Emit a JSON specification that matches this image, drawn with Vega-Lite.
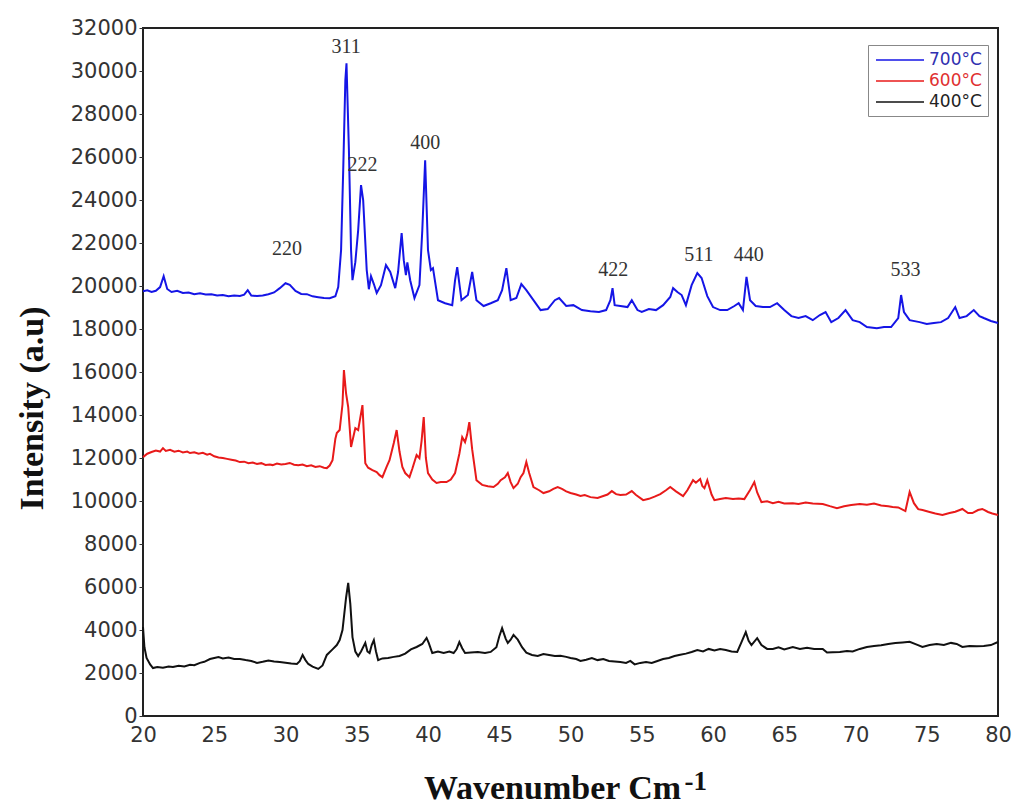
{
  "$schema": "https://vega.github.io/schema/vega-lite/v6.json",
  "width": 855,
  "height": 688,
  "autosize": {"type": "none"},
  "padding": {"left": 143, "top": 28, "right": 17, "bottom": 91},
  "background": "white",
  "config": {
    "view": {"stroke": "#222222", "strokeWidth": 2},
    "axis": {"domain": false, "grid": false, "labelFont": "DejaVu Sans", "labelFontSize": 21, "labelColor": "#333333", "tickColor": "#333333", "titleFont": "Liberation Serif", "titleFontWeight": "bold", "titleColor": "#111111"}
  },
  "datasets": {
    "s700": [
      {"x":20.0,"y":19760},{"x":20.3,"y":19800},{"x":20.6,"y":19720},{"x":20.9,"y":19780},{"x":21.2,"y":19950},{"x":21.45,"y":20460},{"x":21.7,"y":19860},{"x":22.0,"y":19720},{"x":22.4,"y":19780},{"x":22.8,"y":19680},{"x":23.2,"y":19700},{"x":23.6,"y":19620},{"x":24.0,"y":19660},{"x":24.4,"y":19600},{"x":24.8,"y":19620},{"x":25.2,"y":19560},{"x":25.6,"y":19580},{"x":26.0,"y":19520},{"x":26.4,"y":19560},{"x":26.8,"y":19540},{"x":27.1,"y":19600},{"x":27.35,"y":19810},{"x":27.6,"y":19560},{"x":28.0,"y":19530},{"x":28.4,"y":19560},{"x":28.8,"y":19620},{"x":29.2,"y":19700},{"x":29.6,"y":19900},{"x":30.0,"y":20130},{"x":30.3,"y":20050},{"x":30.7,"y":19770},{"x":31.1,"y":19630},{"x":31.5,"y":19620},{"x":31.9,"y":19520},{"x":32.3,"y":19480},{"x":32.7,"y":19440},{"x":33.1,"y":19430},{"x":33.5,"y":19520},{"x":33.7,"y":19950},{"x":33.9,"y":21670},{"x":34.05,"y":25390},{"x":34.2,"y":29570},{"x":34.28,"y":30360},{"x":34.45,"y":26320},{"x":34.6,"y":21670},{"x":34.7,"y":20270},{"x":34.9,"y":21110},{"x":35.1,"y":22600},{"x":35.3,"y":24690},{"x":35.45,"y":23990},{"x":35.7,"y":20740},{"x":35.85,"y":19850},{"x":36.0,"y":20460},{"x":36.2,"y":20090},{"x":36.4,"y":19680},{"x":36.7,"y":20040},{"x":37.05,"y":20970},{"x":37.35,"y":20650},{"x":37.7,"y":19900},{"x":37.9,"y":20650},{"x":38.15,"y":22460},{"x":38.3,"y":21200},{"x":38.45,"y":20510},{"x":38.55,"y":21100},{"x":38.75,"y":20270},{"x":39.05,"y":19440},{"x":39.4,"y":20040},{"x":39.6,"y":22600},{"x":39.8,"y":25850},{"x":40.0,"y":21670},{"x":40.2,"y":20740},{"x":40.35,"y":20830},{"x":40.7,"y":19340},{"x":41.2,"y":19200},{"x":41.7,"y":19110},{"x":41.9,"y":20270},{"x":42.05,"y":20880},{"x":42.35,"y":19340},{"x":42.8,"y":19580},{"x":43.1,"y":20650},{"x":43.4,"y":19340},{"x":43.9,"y":19070},{"x":44.4,"y":19200},{"x":44.9,"y":19340},{"x":45.2,"y":19810},{"x":45.5,"y":20830},{"x":45.8,"y":19340},{"x":46.2,"y":19440},{"x":46.55,"y":20090},{"x":46.9,"y":19810},{"x":47.4,"y":19340},{"x":47.9,"y":18880},{"x":48.4,"y":18930},{"x":48.9,"y":19340},{"x":49.2,"y":19440},{"x":49.7,"y":19070},{"x":50.2,"y":19110},{"x":50.8,"y":18880},{"x":51.4,"y":18830},{"x":52.0,"y":18790},{"x":52.5,"y":18880},{"x":52.8,"y":19340},{"x":52.95,"y":19900},{"x":53.1,"y":19110},{"x":53.5,"y":19070},{"x":54.0,"y":19020},{"x":54.3,"y":19340},{"x":54.7,"y":18880},{"x":55.0,"y":18790},{"x":55.5,"y":18930},{"x":56.0,"y":18880},{"x":56.5,"y":19110},{"x":57.0,"y":19490},{"x":57.2,"y":19900},{"x":57.5,"y":19720},{"x":57.8,"y":19580},{"x":58.1,"y":19110},{"x":58.5,"y":20040},{"x":58.9,"y":20600},{"x":59.2,"y":20370},{"x":59.6,"y":19530},{"x":60.0,"y":19020},{"x":60.5,"y":18880},{"x":61.0,"y":18880},{"x":61.5,"y":19070},{"x":61.8,"y":19200},{"x":62.1,"y":18880},{"x":62.35,"y":20420},{"x":62.6,"y":19340},{"x":63.0,"y":19070},{"x":63.5,"y":19020},{"x":64.0,"y":19020},{"x":64.5,"y":19200},{"x":65.0,"y":18880},{"x":65.5,"y":18600},{"x":66.0,"y":18510},{"x":66.5,"y":18600},{"x":67.0,"y":18410},{"x":67.5,"y":18650},{"x":67.9,"y":18790},{"x":68.3,"y":18320},{"x":68.8,"y":18510},{"x":69.3,"y":18880},{"x":69.8,"y":18410},{"x":70.3,"y":18320},{"x":70.8,"y":18090},{"x":71.5,"y":18040},{"x":72.0,"y":18090},{"x":72.5,"y":18090},{"x":73.0,"y":18510},{"x":73.2,"y":19580},{"x":73.4,"y":18790},{"x":73.8,"y":18410},{"x":74.5,"y":18320},{"x":75.0,"y":18230},{"x":75.5,"y":18280},{"x":76.0,"y":18320},{"x":76.5,"y":18510},{"x":77.0,"y":19020},{"x":77.3,"y":18510},{"x":77.8,"y":18600},{"x":78.3,"y":18880},{"x":78.7,"y":18600},{"x":79.0,"y":18510},{"x":79.5,"y":18370},{"x":80.0,"y":18280}
    ],
    "s600": [
      {"x":20.0,"y":12040},{"x":20.3,"y":12200},{"x":20.6,"y":12280},{"x":20.9,"y":12350},{"x":21.2,"y":12300},{"x":21.4,"y":12460},{"x":21.6,"y":12330},{"x":21.9,"y":12380},{"x":22.2,"y":12290},{"x":22.5,"y":12340},{"x":22.8,"y":12260},{"x":23.1,"y":12300},{"x":23.3,"y":12230},{"x":23.6,"y":12270},{"x":23.9,"y":12200},{"x":24.2,"y":12240},{"x":24.5,"y":12150},{"x":24.7,"y":12190},{"x":25.0,"y":12080},{"x":25.3,"y":12020},{"x":25.6,"y":12000},{"x":25.9,"y":11960},{"x":26.2,"y":11920},{"x":26.5,"y":11880},{"x":26.8,"y":11810},{"x":27.1,"y":11830},{"x":27.4,"y":11760},{"x":27.7,"y":11790},{"x":28.0,"y":11720},{"x":28.3,"y":11760},{"x":28.6,"y":11680},{"x":28.9,"y":11700},{"x":29.1,"y":11670},{"x":29.4,"y":11740},{"x":29.7,"y":11700},{"x":30.0,"y":11720},{"x":30.3,"y":11770},{"x":30.6,"y":11690},{"x":30.9,"y":11660},{"x":31.2,"y":11700},{"x":31.5,"y":11620},{"x":31.8,"y":11660},{"x":32.1,"y":11580},{"x":32.4,"y":11620},{"x":32.7,"y":11550},{"x":32.9,"y":11530},{"x":33.1,"y":11650},{"x":33.3,"y":11900},{"x":33.5,"y":12900},{"x":33.6,"y":13160},{"x":33.8,"y":13300},{"x":34.0,"y":14500},{"x":34.1,"y":16090},{"x":34.25,"y":15000},{"x":34.4,"y":14370},{"x":34.6,"y":12510},{"x":34.9,"y":13390},{"x":35.1,"y":13300},{"x":35.4,"y":14460},{"x":35.6,"y":11760},{"x":35.8,"y":11550},{"x":36.1,"y":11440},{"x":36.4,"y":11350},{"x":36.6,"y":11200},{"x":36.8,"y":11110},{"x":37.1,"y":11600},{"x":37.3,"y":11900},{"x":37.6,"y":12700},{"x":37.8,"y":13300},{"x":38.0,"y":12300},{"x":38.2,"y":11580},{"x":38.4,"y":11300},{"x":38.7,"y":11110},{"x":38.9,"y":11500},{"x":39.2,"y":12140},{"x":39.4,"y":11990},{"x":39.55,"y":12800},{"x":39.7,"y":13900},{"x":39.85,"y":12000},{"x":40.0,"y":11300},{"x":40.3,"y":11000},{"x":40.6,"y":10840},{"x":40.9,"y":10880},{"x":41.3,"y":10880},{"x":41.6,"y":11000},{"x":41.9,"y":11300},{"x":42.2,"y":12200},{"x":42.4,"y":12970},{"x":42.6,"y":12740},{"x":42.75,"y":13100},{"x":42.9,"y":13670},{"x":43.1,"y":12400},{"x":43.4,"y":10970},{"x":43.8,"y":10750},{"x":44.2,"y":10690},{"x":44.6,"y":10650},{"x":44.9,"y":10800},{"x":45.1,"y":10970},{"x":45.4,"y":11100},{"x":45.6,"y":11300},{"x":45.8,"y":10880},{"x":46.0,"y":10600},{"x":46.3,"y":10800},{"x":46.5,"y":11110},{"x":46.7,"y":11300},{"x":46.9,"y":11810},{"x":47.1,"y":11300},{"x":47.4,"y":10650},{"x":47.8,"y":10500},{"x":48.1,"y":10370},{"x":48.5,"y":10450},{"x":48.8,"y":10560},{"x":49.1,"y":10650},{"x":49.4,"y":10560},{"x":49.7,"y":10450},{"x":50.0,"y":10370},{"x":50.4,"y":10300},{"x":50.7,"y":10230},{"x":51.0,"y":10280},{"x":51.4,"y":10180},{"x":51.9,"y":10140},{"x":52.3,"y":10230},{"x":52.6,"y":10300},{"x":52.9,"y":10460},{"x":53.2,"y":10320},{"x":53.5,"y":10280},{"x":53.9,"y":10300},{"x":54.3,"y":10460},{"x":54.6,"y":10280},{"x":55.1,"y":10040},{"x":55.5,"y":10100},{"x":55.9,"y":10200},{"x":56.3,"y":10320},{"x":56.7,"y":10500},{"x":57.0,"y":10650},{"x":57.4,"y":10450},{"x":57.9,"y":10230},{"x":58.2,"y":10500},{"x":58.6,"y":10970},{"x":58.8,"y":10850},{"x":59.1,"y":11020},{"x":59.25,"y":10700},{"x":59.4,"y":10600},{"x":59.6,"y":10970},{"x":59.9,"y":10300},{"x":60.1,"y":10040},{"x":60.5,"y":10090},{"x":60.9,"y":10140},{"x":61.4,"y":10090},{"x":61.8,"y":10120},{"x":62.2,"y":10090},{"x":62.6,"y":10510},{"x":62.9,"y":10880},{"x":63.1,"y":10400},{"x":63.4,"y":9950},{"x":63.8,"y":9990},{"x":64.2,"y":9900},{"x":64.6,"y":9960},{"x":65.0,"y":9880},{"x":65.6,"y":9900},{"x":66.0,"y":9860},{"x":66.5,"y":9930},{"x":67.0,"y":9880},{"x":67.7,"y":9860},{"x":68.2,"y":9760},{"x":68.7,"y":9670},{"x":69.2,"y":9760},{"x":69.7,"y":9810},{"x":70.3,"y":9860},{"x":70.8,"y":9830},{"x":71.3,"y":9880},{"x":71.8,"y":9790},{"x":72.3,"y":9760},{"x":72.6,"y":9720},{"x":73.0,"y":9700},{"x":73.5,"y":9530},{"x":73.8,"y":10420},{"x":74.1,"y":9900},{"x":74.4,"y":9620},{"x":74.7,"y":9580},{"x":75.2,"y":9490},{"x":75.6,"y":9420},{"x":76.1,"y":9350},{"x":76.6,"y":9440},{"x":77.0,"y":9500},{"x":77.5,"y":9630},{"x":77.9,"y":9440},{"x":78.2,"y":9440},{"x":78.6,"y":9580},{"x":78.9,"y":9630},{"x":79.3,"y":9490},{"x":79.6,"y":9420},{"x":80.0,"y":9350}
    ],
    "s400": [
      {"x":20.0,"y":4140},{"x":20.1,"y":3200},{"x":20.25,"y":2700},{"x":20.5,"y":2400},{"x":20.7,"y":2230},{"x":21.0,"y":2280},{"x":21.4,"y":2240},{"x":21.8,"y":2300},{"x":22.1,"y":2280},{"x":22.5,"y":2340},{"x":22.9,"y":2300},{"x":23.3,"y":2380},{"x":23.6,"y":2360},{"x":24.0,"y":2470},{"x":24.3,"y":2520},{"x":24.7,"y":2650},{"x":25.0,"y":2700},{"x":25.3,"y":2740},{"x":25.6,"y":2680},{"x":26.0,"y":2720},{"x":26.4,"y":2650},{"x":26.8,"y":2650},{"x":27.2,"y":2600},{"x":27.6,"y":2560},{"x":28.0,"y":2470},{"x":28.4,"y":2520},{"x":28.8,"y":2580},{"x":29.2,"y":2540},{"x":29.6,"y":2510},{"x":30.0,"y":2480},{"x":30.4,"y":2440},{"x":30.8,"y":2420},{"x":31.0,"y":2550},{"x":31.2,"y":2840},{"x":31.4,"y":2600},{"x":31.6,"y":2420},{"x":31.9,"y":2300},{"x":32.3,"y":2190},{"x":32.6,"y":2350},{"x":32.9,"y":2840},{"x":33.3,"y":3100},{"x":33.6,"y":3300},{"x":33.8,"y":3530},{"x":34.0,"y":4000},{"x":34.1,"y":4600},{"x":34.25,"y":5500},{"x":34.4,"y":6190},{"x":34.55,"y":5200},{"x":34.7,"y":3670},{"x":34.9,"y":3000},{"x":35.1,"y":2790},{"x":35.3,"y":3000},{"x":35.6,"y":3400},{"x":35.75,"y":3000},{"x":35.9,"y":2930},{"x":36.05,"y":3300},{"x":36.2,"y":3530},{"x":36.35,"y":3000},{"x":36.5,"y":2600},{"x":36.8,"y":2680},{"x":37.2,"y":2700},{"x":37.6,"y":2750},{"x":38.0,"y":2790},{"x":38.4,"y":2900},{"x":38.8,"y":3100},{"x":39.2,"y":3210},{"x":39.6,"y":3350},{"x":39.9,"y":3630},{"x":40.05,"y":3400},{"x":40.3,"y":2930},{"x":40.7,"y":3000},{"x":41.1,"y":2930},{"x":41.5,"y":3000},{"x":41.8,"y":2930},{"x":42.0,"y":3100},{"x":42.2,"y":3440},{"x":42.4,"y":3150},{"x":42.6,"y":2930},{"x":43.0,"y":2950},{"x":43.5,"y":2980},{"x":44.0,"y":2930},{"x":44.4,"y":2980},{"x":44.8,"y":3200},{"x":45.0,"y":3700},{"x":45.2,"y":4090},{"x":45.45,"y":3600},{"x":45.6,"y":3400},{"x":45.8,"y":3550},{"x":46.0,"y":3770},{"x":46.3,"y":3550},{"x":46.6,"y":3200},{"x":46.9,"y":2950},{"x":47.3,"y":2840},{"x":47.7,"y":2790},{"x":48.1,"y":2880},{"x":48.5,"y":2840},{"x":48.9,"y":2790},{"x":49.3,"y":2800},{"x":49.7,"y":2750},{"x":50.0,"y":2700},{"x":50.4,"y":2650},{"x":50.7,"y":2560},{"x":51.1,"y":2620},{"x":51.5,"y":2700},{"x":51.9,"y":2600},{"x":52.3,"y":2650},{"x":52.7,"y":2560},{"x":53.1,"y":2540},{"x":53.5,"y":2510},{"x":53.9,"y":2470},{"x":54.2,"y":2560},{"x":54.5,"y":2400},{"x":54.9,"y":2470},{"x":55.3,"y":2510},{"x":55.7,"y":2470},{"x":56.1,"y":2560},{"x":56.5,"y":2650},{"x":56.9,"y":2700},{"x":57.3,"y":2790},{"x":57.7,"y":2850},{"x":58.1,"y":2900},{"x":58.5,"y":2980},{"x":58.9,"y":3070},{"x":59.3,"y":3000},{"x":59.7,"y":3120},{"x":60.1,"y":3050},{"x":60.5,"y":3120},{"x":60.9,"y":3070},{"x":61.3,"y":3000},{"x":61.7,"y":2980},{"x":62.0,"y":3440},{"x":62.3,"y":3900},{"x":62.5,"y":3500},{"x":62.7,"y":3300},{"x":63.1,"y":3620},{"x":63.4,"y":3300},{"x":63.8,"y":3120},{"x":64.2,"y":3120},{"x":64.6,"y":3200},{"x":65.0,"y":3100},{"x":65.6,"y":3210},{"x":66.1,"y":3120},{"x":66.6,"y":3170},{"x":67.1,"y":3120},{"x":67.7,"y":3120},{"x":68.0,"y":2950},{"x":68.4,"y":2970},{"x":68.9,"y":2980},{"x":69.4,"y":3020},{"x":69.8,"y":3000},{"x":70.3,"y":3120},{"x":70.8,"y":3210},{"x":71.3,"y":3260},{"x":71.8,"y":3290},{"x":72.3,"y":3350},{"x":72.8,"y":3390},{"x":73.3,"y":3420},{"x":73.8,"y":3450},{"x":74.3,"y":3320},{"x":74.7,"y":3210},{"x":75.2,"y":3300},{"x":75.7,"y":3350},{"x":76.2,"y":3300},{"x":76.7,"y":3400},{"x":77.1,"y":3350},{"x":77.5,"y":3210},{"x":78.0,"y":3260},{"x":78.5,"y":3240},{"x":79.0,"y":3260},{"x":79.5,"y":3300},{"x":80.0,"y":3440}
    ],
    "peaks": [
      {"label": "311", "x": 34.25, "y": 31100},
      {"label": "222", "x": 35.4, "y": 25650},
      {"label": "400", "x": 39.8, "y": 26650},
      {"label": "220", "x": 30.1, "y": 21700},
      {"label": "422", "x": 53.0, "y": 20740},
      {"label": "511", "x": 59.0, "y": 21440},
      {"label": "440", "x": 62.5, "y": 21440},
      {"label": "533", "x": 73.5, "y": 20740}
    ],
    "sup": [{"t": "-1", "x": 58.0, "y": -3050}]
  },
  "encoding": {
    "x": {"field": "x", "type": "quantitative", "scale": {"domain": [20, 80], "nice": false, "zero": false},
      "axis": {"values": [20,25,30,35,40,45,50,55,60,65,70,75,80], "tickSize": 0, "labelPadding": 8, "labelFlush": false,
        "title": "Wavenumber Cm", "titleFontSize": 34, "titleX": 409, "titleY": 82, "titleBaseline": "alphabetic", "titleAlign": "center"}},
    "y": {"field": "y", "type": "quantitative", "scale": {"domain": [0, 32000], "nice": false},
      "axis": {"values": [0,2000,4000,6000,8000,10000,12000,14000,16000,18000,20000,22000,24000,26000,28000,30000,32000], "format": "d", "tickSize": 4, "labelPadding": 2,
        "title": "Intensity (a.u)", "titleFontSize": 34, "titleAngle": -90, "titleX": -101, "titleY": 380, "titleBaseline": "alphabetic", "titleAlign": "center"}}
  },
  "layer": [
    {
      "data": {"name": "s700"},
      "mark": {"type": "line", "strokeWidth": 2},
      "encoding": {
        "color": {"datum": "700°C", "type": "nominal",
          "scale": {"domain": ["700°C", "600°C", "400°C"], "range": ["#1515e6", "#e81a1a", "#111111"]},
          "legend": {"title": null, "orient": "none", "legendX": 725, "legendY": 17, "direction": "vertical",
            "symbolType": "M-3,0H3", "symbolSize": 256, "symbolStrokeWidth": 1.5, "symbolOffset": 17, "labelFont": "DejaVu Sans", "labelFontSize": 17, "labelOffset": 20,
            "strokeColor": "#888888", "padding": 6, "rowPadding": 4,
            "encode": {"labels": {"update": {"fill": {"signal": "datum.value === '700°C' ? '#3030b0' : datum.value === '600°C' ? '#e03030' : '#222222'"}}}}}}
      }
    },
    {
      "data": {"name": "s600"},
      "mark": {"type": "line", "strokeWidth": 2},
      "encoding": {"color": {"datum": "600°C", "type": "nominal"}}
    },
    {
      "data": {"name": "s400"},
      "mark": {"type": "line", "strokeWidth": 2},
      "encoding": {"color": {"datum": "400°C", "type": "nominal"}}
    },
    {
      "data": {"name": "peaks"},
      "mark": {"type": "text", "font": "Liberation Serif", "fontSize": 20, "color": "#333333", "baseline": "middle", "align": "center"},
      "encoding": {"text": {"field": "label"}}
    },
    {
      "data": {"name": "sup"},
      "mark": {"type": "text", "font": "Liberation Serif", "fontWeight": "bold", "fontSize": 27, "color": "#111111", "baseline": "middle", "align": "left"},
      "encoding": {"text": {"field": "t"}}
    }
  ]
}
